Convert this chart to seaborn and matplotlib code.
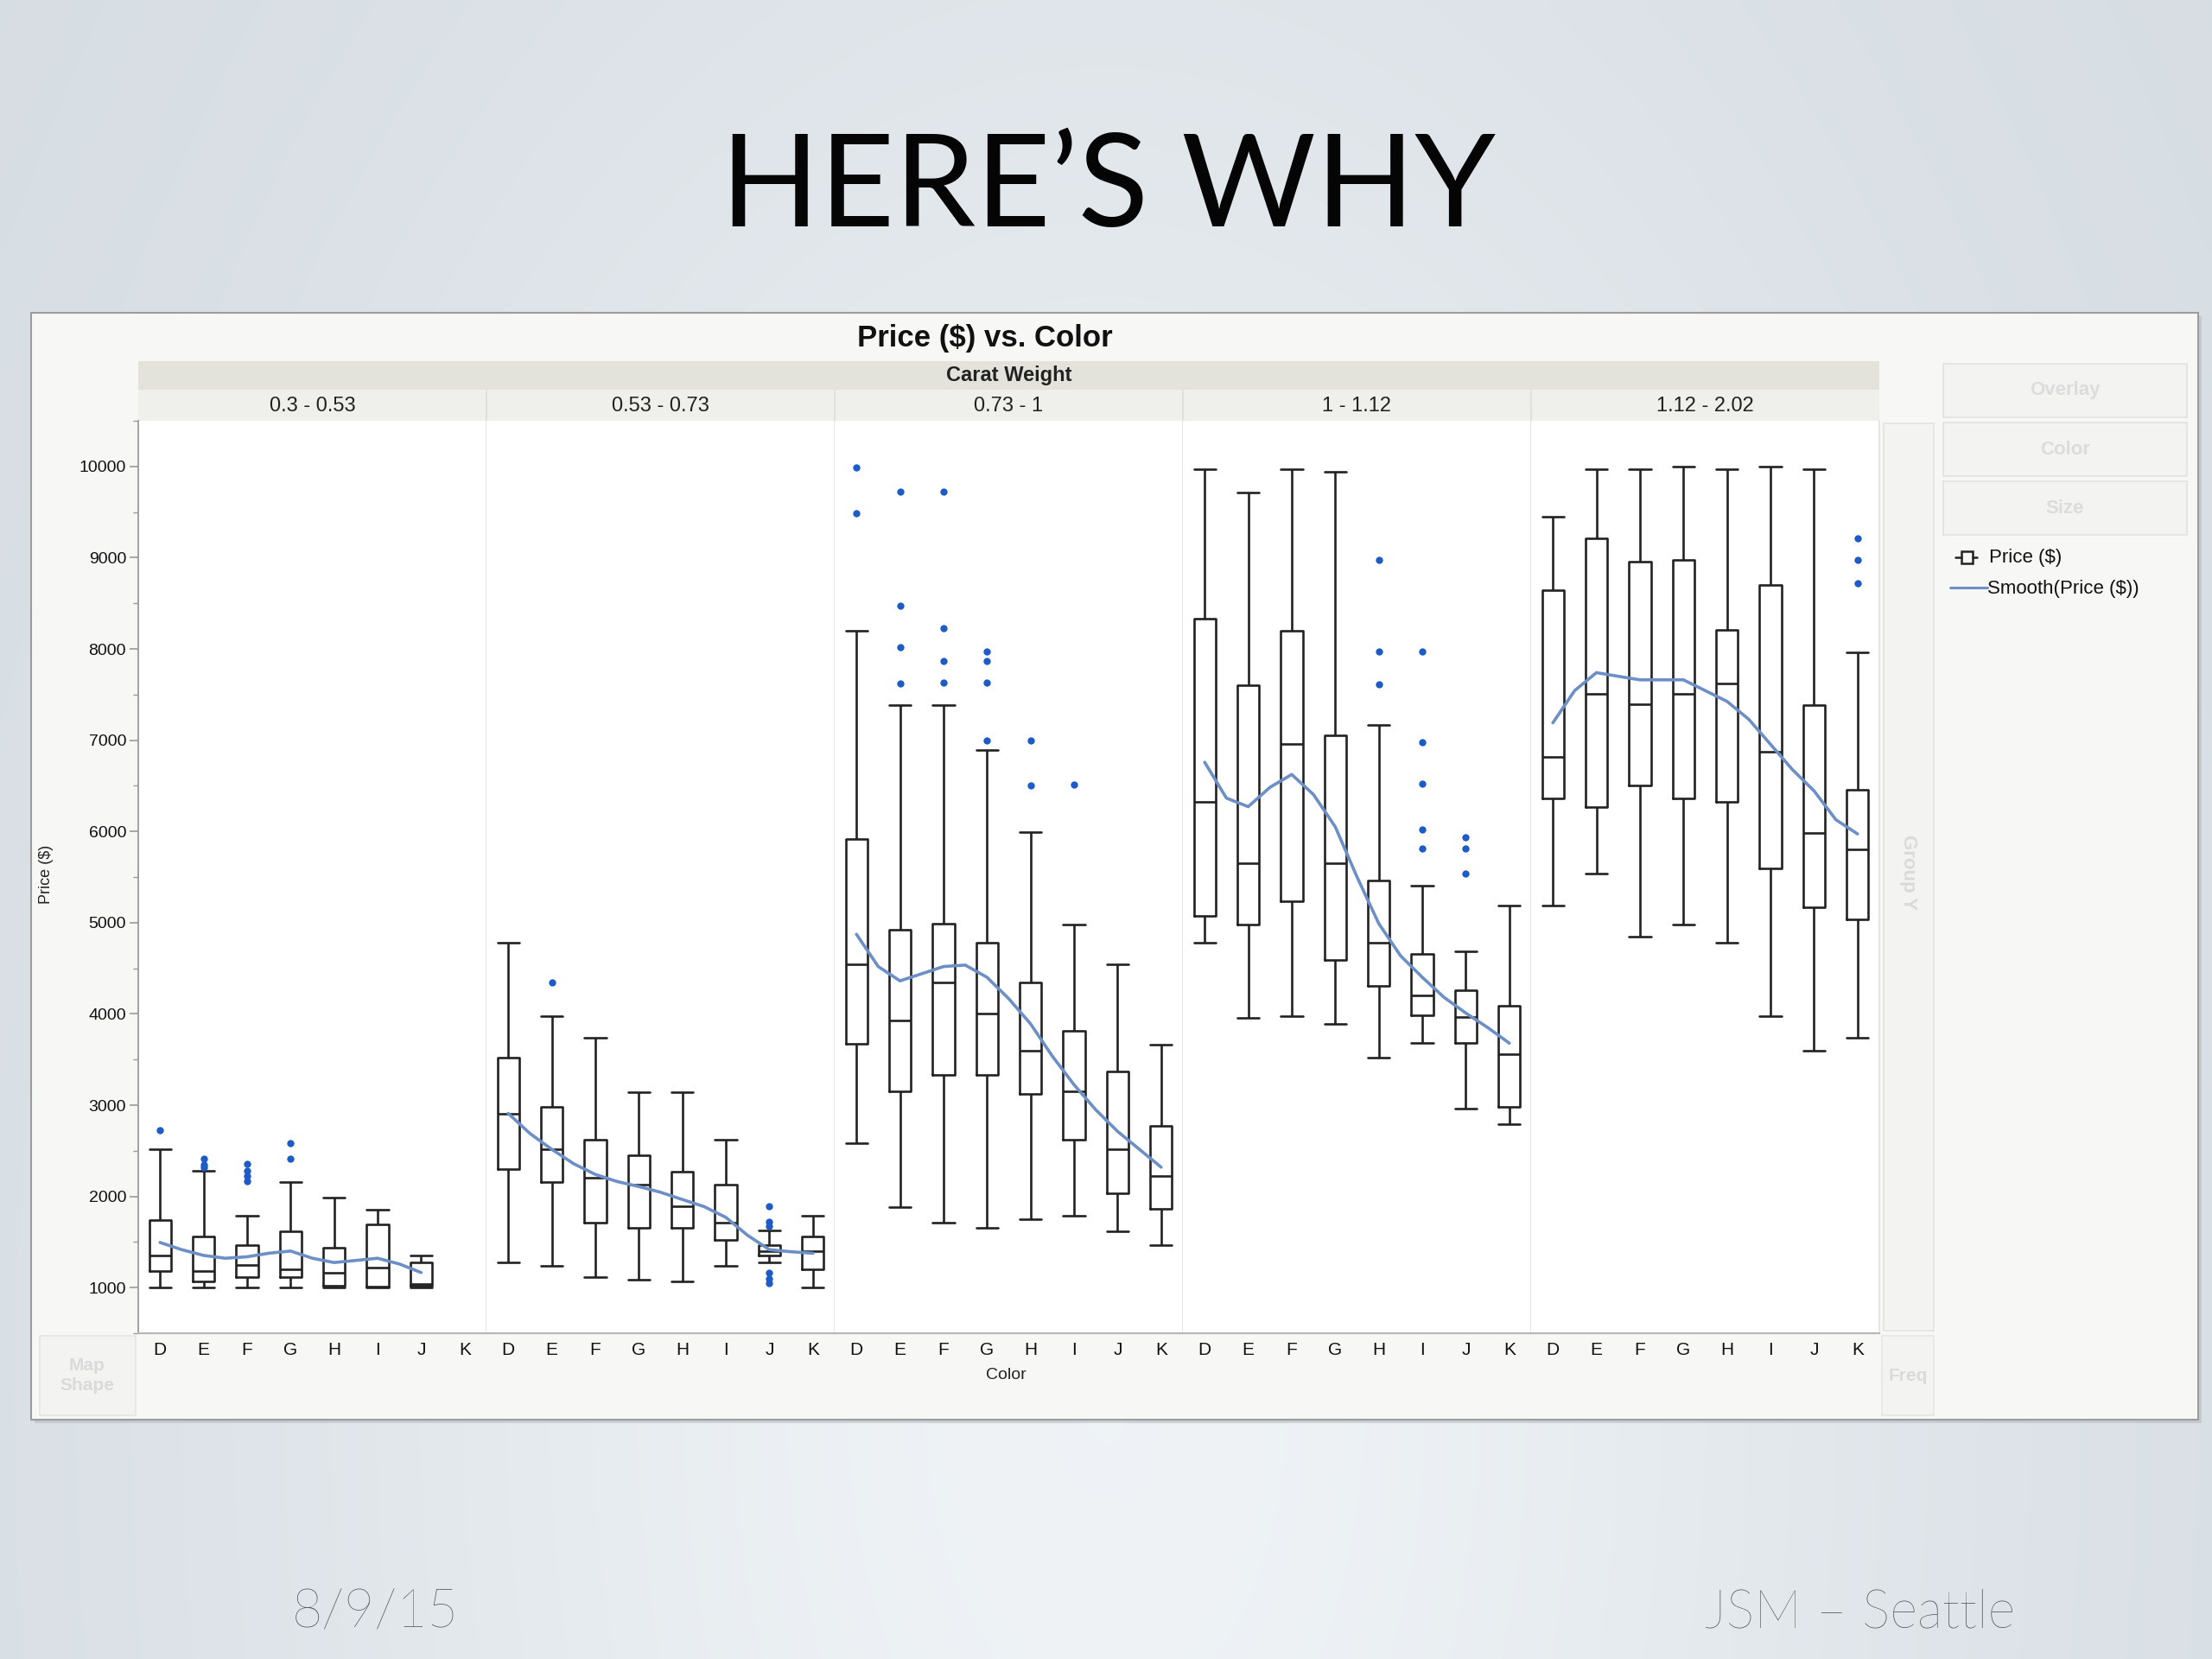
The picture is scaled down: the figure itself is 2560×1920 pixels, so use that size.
import numpy as np
import pandas as pd
import matplotlib
matplotlib.use("Agg")
import matplotlib.pyplot as plt
from matplotlib.patches import Rectangle
from matplotlib.lines import Line2D
from matplotlib.ticker import MultipleLocator
import seaborn as sns

# ---------------- data ----------------
COLORS = ["D", "E", "F", "G", "H", "I", "J", "K"]
CARAT_BINS = ["0.3 - 0.53", "0.53 - 0.73", "0.73 - 1", "1 - 1.12", "1.12 - 2.02"]

WHISK_LOW = [
    [1000, 1000, 1000, 1000, 1000, 1000, 1000, None],
    [1280, 1240, 1120, 1090, 1065, 1240, 1280, 1000],
    [2580, 1880, 1710, 1660, 1750, 1790, 1620, 1470],
    [4780, 3960, 3980, 3890, 3520, 3680, 2960, 2790],
    [5190, 5540, 4850, 4980, 4780, 3980, 3600, 3740],
]
Q1 = [
    [1180, 1065, 1120, 1120, 1025, 1010, 1025, None],
    [2300, 2155, 1715, 1660, 1660, 1520, 1355, 1205],
    [3670, 3150, 3330, 3330, 3120, 2620, 2030, 1865],
    [5070, 4980, 5235, 4590, 4305, 3985, 3680, 2985],
    [6365, 6270, 6505, 6365, 6320, 5595, 5170, 5040],
]
MEDIAN = [
    [1355, 1180, 1245, 1205, 1165, 1220, 1040, None],
    [2910, 2515, 2200, 2125, 1890, 1715, 1395, 1395],
    [4545, 3930, 4340, 4000, 3600, 3150, 2515, 2220],
    [6325, 5650, 6960, 5650, 4785, 4205, 3970, 3555],
    [6820, 7505, 7395, 7505, 7620, 6870, 5980, 5805],
]
Q3 = [
    [1745, 1560, 1470, 1620, 1440, 1690, 1275, None],
    [3520, 2985, 2620, 2455, 2275, 2125, 1470, 1560],
    [5915, 4925, 4990, 4780, 4345, 3810, 3370, 2775],
    [8330, 7600, 8195, 7050, 5460, 4660, 4260, 4085],
    [8645, 9210, 8955, 8975, 8210, 8705, 7380, 6460],
]
WHISK_HIGH = [
    [2515, 2280, 1785, 2155, 1990, 1850, 1355, None],
    [4780, 3975, 3740, 3145, 3145, 2625, 1630, 1785],
    [8195, 7385, 7385, 6890, 5990, 4975, 4545, 3665],
    [9970, 9710, 9970, 9945, 7165, 5405, 4685, 5185],
    [9450, 9970, 9970, 9995, 9970, 9995, 9970, 7965],
]
# smooth curve, read at every half category step (D, D-E, E, ..., K)
SMOOTH_POS = [0, 0.5, 1, 1.5, 2, 2.5, 3, 3.5, 4, 4.5, 5, 5.5, 6, 6.5, 7]
SMOOTH = [
    [1495, 1416, 1353, 1322, 1338, 1377, 1401, 1322, 1275, 1298, 1322, 1259, 1165, None, None],
    [2909, 2689, 2516, 2359, 2241, 2163, 2108, 2045, 1966, 1888, 1770, 1573, 1416, 1393, 1377],
    [4873, 4519, 4362, 4440, 4519, 4535, 4401, 4166, 3891, 3537, 3223, 2948, 2712, 2516, 2320],
    [6758, 6365, 6271, 6483, 6624, 6404, 6051, 5501, 4990, 4637, 4401, 4181, 4009, 3851, 3679],
    [7190, 7543, 7740, 7700, 7661, 7661, 7661, 7543, 7425, 7229, 6954, 6679, 6444, 6129, 5972],
]
OUT_BIN = [0, 0, 0, 0, 0, 0, 0, 0, 0, 0,
           1, 1, 1, 1, 1, 1, 1,
           2, 2, 2, 2, 2, 2, 2, 2, 2, 2, 2, 2, 2, 2, 2, 2, 2,
           3, 3, 3, 3, 3, 3, 3, 3, 3, 3, 3,
           4, 4, 4]
OUT_COLOR = ["D", "E", "E", "E", "F", "F", "F", "F", "G", "G",
             "E", "J", "J", "J", "J", "J", "J",
             "D", "D", "E", "E", "E", "E", "F", "F", "F", "F", "G", "G", "G", "G", "H", "H", "I",
             "H", "H", "H", "I", "I", "I", "I", "I", "J", "J", "J",
             "K", "K", "K"]
OUT_PRICE = [2730, 2415, 2350, 2320, 2360, 2280, 2220, 2170, 2580, 2415,
             4340, 1890, 1720, 1670, 1165, 1100, 1045,
             9985, 9485, 9725, 8470, 8015, 7620, 9720, 8225, 7865, 7630, 7975, 7865, 7630, 6995, 6995, 6505, 6515,
             8975, 7975, 7615, 7975, 6980, 6520, 6020, 5815, 5935, 5815, 5540,
             9210, 8975, 8720]

Y_TICKS = [1000, 2000, 3000, 4000, 5000, 6000, 7000, 8000, 9000, 10000]

# ---------------- tidy frames ----------------
box_rows = []
for b, label in enumerate(CARAT_BINS):
    for c, col in enumerate(COLORS):
        vals = [WHISK_LOW[b][c], Q1[b][c], MEDIAN[b][c], Q3[b][c], WHISK_HIGH[b][c]]
        if vals[0] is None:
            continue
        for v in vals:
            box_rows.append({"bin": label, "color": col, "price": v})
box_df = pd.DataFrame(box_rows)

smooth_rows = []
for b, label in enumerate(CARAT_BINS):
    for p, v in zip(SMOOTH_POS, SMOOTH[b]):
        if v is not None:
            smooth_rows.append({"bin": label, "pos": p, "smooth": v})
smooth_df = pd.DataFrame(smooth_rows)

out_df = pd.DataFrame({"bin": [CARAT_BINS[i] for i in OUT_BIN], "color": OUT_COLOR, "price": OUT_PRICE})

# ---------------- style ----------------
sns.set_theme(style="white")
plt.rcParams["font.family"] = ["Liberation Sans", "DejaVu Sans"]

W, H = 2560, 1920
fig = plt.figure(figsize=(25.6, 19.2), dpi=100)

# background axes in pixel coordinates
bg = fig.add_axes([0, 0, 1, 1], zorder=0)
bg.set_xlim(0, W)
bg.set_ylim(H, 0)
bg.axis("off")

yy, xx = np.mgrid[0:1:240j, 0:1:320j]
dark = np.array([0.835, 0.862, 0.886])
light = np.array([0.937, 0.953, 0.965])
wgt = np.exp(-((xx - 0.5) ** 2) / 0.15 - ((yy - 0.85) ** 2) / 0.8)[..., None]
img = np.clip(dark * (1 - wgt) + light * wgt, 0, 1)
bg.imshow(img, extent=(0, W, H, 0), aspect="auto", zorder=0, interpolation="bicubic")

# slide title & footer
bg.text(1282, 262, "HERE\u2019S WHY", ha="center", va="baseline", fontsize=108,
        family=["Lato", "DejaVu Sans"], fontweight="normal", color="#050505", zorder=1)
bg.text(338, 1884, "8/9/15", ha="left", va="baseline", fontsize=44,
        family=["Lato", "DejaVu Sans"], fontweight="light", color="#4a4f54", zorder=1)
bg.text(2332, 1884, "JSM \u2013 Seattle", ha="right", va="baseline", fontsize=44,
        family=["Lato", "DejaVu Sans"], fontweight="light", color="#4a4f54", zorder=1)

# chart window
bg.add_patch(Rectangle((40, 366), 2508, 1281, facecolor="#b8bcc0", edgecolor="none", zorder=1, alpha=0.6))
bg.add_patch(Rectangle((36, 362), 2508, 1281, facecolor="#f7f7f6", edgecolor="#9c9c9c", lw=1.5, zorder=2))
bg.text(1140, 392, "Price ($) vs. Color", ha="center", va="center", fontsize=25,
        fontweight="bold", color="#111111", zorder=3)

PL, PR, PT, PB = 160, 2175, 487, 1543
PW = (PR - PL) / len(CARAT_BINS)

bg.add_patch(Rectangle((PL, 418), PR - PL, 33, facecolor="#e3e3db", edgecolor="none", zorder=3))
bg.text((PL + PR) / 2, 435, "Carat Weight", ha="center", va="center", fontsize=17,
        fontweight="bold", color="#222222", zorder=4)
bg.add_patch(Rectangle((PL, 451), PR - PL, 36, facecolor="#efefeb", edgecolor="none", zorder=3))
for b, label in enumerate(CARAT_BINS):
    x0 = PL + b * PW
    if b > 0:
        bg.add_line(Line2D([x0, x0], [451, 487], color="#dcdcd8", lw=1.2, zorder=4))
    bg.text(x0 + PW / 2, 470, label, ha="center", va="center", fontsize=17,
            color="#222222", zorder=4)

# axis titles
bg.text(54, 1012, "Price ($)", ha="center", va="center", rotation=90, fontsize=13,
        color="#222222", zorder=3)
bg.text(1164, 1592, "Color", ha="center", va="center", fontsize=14,
        color="#222222", zorder=3)

# side controls (disabled look)
for i, lab in enumerate(["Overlay", "Color", "Size"]):
    y0 = 421 + i * 68
    bg.add_patch(Rectangle((2249, y0), 282, 62, facecolor="#f3f3f1", edgecolor="#e2e2e0", lw=1.2, zorder=3))
    bg.text(2390, y0 + 31, lab, ha="center", va="center", fontsize=16, fontweight="bold",
            color="#dcdcdc", zorder=4)
bg.add_patch(Rectangle((2180, 490), 58, 1050, facecolor="#f3f3f1", edgecolor="#e2e2e0", lw=1.2, zorder=3))
bg.text(2209, 1010, "Group Y", ha="center", va="center", rotation=-90, fontsize=16,
        fontweight="bold", color="#dadada", zorder=4)
bg.add_patch(Rectangle((46, 1546), 111, 92, facecolor="#f3f3f1", edgecolor="#e6e6e4", lw=1.2, zorder=3))
bg.text(101, 1592, "Map\nShape", ha="center", va="center", fontsize=15, fontweight="bold",
        color="#dadada", linespacing=1.3, zorder=4)
bg.add_patch(Rectangle((2178, 1546), 60, 92, facecolor="#f3f3f1", edgecolor="#e6e6e4", lw=1.2, zorder=3))
bg.text(2208, 1592, "Freq", ha="center", va="center", fontsize=15, fontweight="bold",
        color="#dadada", zorder=4)

# legend
BOX_C = "#222222"
SMOOTH_C = "#6d8fc7"
OUT_C = "#1d5cc8"
bg.add_line(Line2D([2263, 2270], [645, 645], color=BOX_C, lw=1.8, zorder=4))
bg.add_patch(Rectangle((2270, 638), 13, 14, facecolor="none", edgecolor=BOX_C, lw=1.8, zorder=4))
bg.add_line(Line2D([2283, 2288], [645, 645], color=BOX_C, lw=1.8, zorder=4))
bg.text(2302, 646, "Price ($)", ha="left", va="center", fontsize=16, color="#111111", zorder=4)
bg.add_line(Line2D([2257, 2300], [680, 680], color=SMOOTH_C, lw=2.2, zorder=4))
bg.text(2300, 681, "Smooth(Price ($))", ha="left", va="center", fontsize=16, color="#111111", zorder=4)

# ---------------- panels ----------------
LW = 1.9
for b, label in enumerate(CARAT_BINS):
    x0 = PL + b * PW
    ax = fig.add_axes([x0 / W, 1 - PB / H, PW / W, (PB - PT) / H], zorder=2)
    ax.set_facecolor("white")
    sub = box_df[box_df["bin"] == label]
    sns.boxplot(data=sub, x="color", y="price", order=COLORS, whis=(0, 100),
                width=0.5, fill=False, showfliers=False, ax=ax,
                boxprops=dict(color=BOX_C, linewidth=LW),
                whiskerprops=dict(color=BOX_C, linewidth=LW),
                capprops=dict(color=BOX_C, linewidth=LW),
                medianprops=dict(color=BOX_C, linewidth=LW),
                capwidths=0.5)
    osub = out_df[out_df["bin"] == label]
    if len(osub):
        sns.stripplot(data=osub, x="color", y="price", order=COLORS, jitter=False,
                      color=OUT_C, size=6, linewidth=0, ax=ax, zorder=4)
    ssub = smooth_df[smooth_df["bin"] == label]
    sns.lineplot(data=ssub, x="pos", y="smooth", sort=False, estimator=None,
                 color=SMOOTH_C, linewidth=2.6, ax=ax, zorder=5)

    ax.set_xlim(-0.5, len(COLORS) - 0.5)
    ax.set_ylim(500, 10500)
    ax.set_xticks(range(len(COLORS)))
    ax.set_xticklabels(COLORS)
    ax.set_xlabel("")
    ax.set_ylabel("")
    ax.tick_params(axis="x", length=0, pad=7, labelsize=15, labelcolor="#111111")
    ax.spines["top"].set_visible(False)
    ax.spines["bottom"].set_color("#b5b5b5")
    ax.spines["bottom"].set_linewidth(1.5)
    ax.spines["right"].set_color("#e2e2e2")
    ax.spines["right"].set_linewidth(1.2)
    if b == 0:
        ax.set_yticks(Y_TICKS)
        ax.yaxis.set_minor_locator(MultipleLocator(500))
        ax.tick_params(axis="y", which="major", length=7, width=1.2, color="#9a9a9a",
                       labelsize=14, labelcolor="#111111", pad=3, left=True)
        ax.tick_params(axis="y", which="minor", length=4, width=1.0, color="#9a9a9a", left=True)
        ax.spines["left"].set_color("#9a9a9a")
        ax.spines["left"].set_linewidth(1.3)
    else:
        ax.set_yticks([])
        ax.spines["left"].set_visible(False)

fig.savefig("out.png", dpi=100)
